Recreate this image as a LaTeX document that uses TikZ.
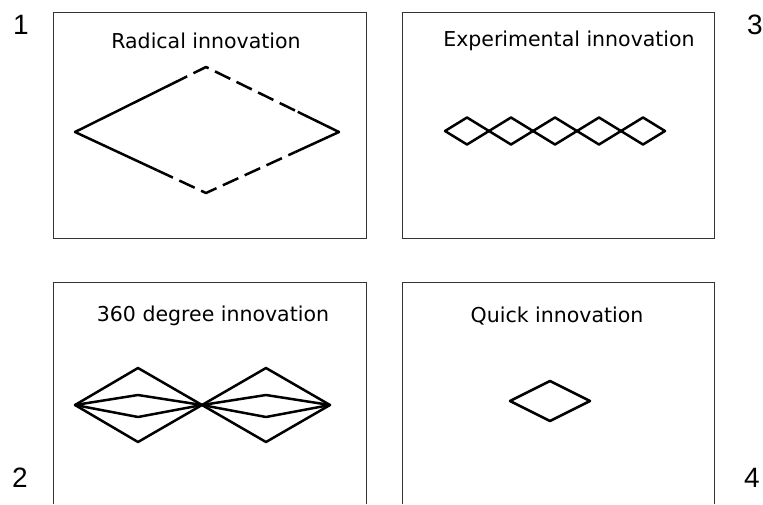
\documentclass[tikz,border=0pt]{standalone}
\usepackage{fontspec}
\setmainfont{DejaVu Sans}
\newfontfamily\numfont{Liberation Sans}
\usetikzlibrary{positioning,calc}

\begin{document}
\begin{tikzpicture}[x=1pt,y=-1pt,
    frame/.style={draw=black!80,line width=1pt},
    rhomb/.style={line width=2.5pt,line join=round},
    gaps/.style={rhomb,dash pattern=on 17pt off 7pt},
    title/.style={font=\fontsize{20.5}{24}\selectfont},
    num/.style={font=\numfont\fontsize{28}{32}\selectfont}]

      \useasboundingbox (0,0) rectangle (763,504);

      % frames
      \draw[frame] (53,12) rectangle (366,238);
      \draw[frame] (402,12) rectangle (714,238);
      \draw[frame] (53,504) |- (366,282) -- (366,504);
      \draw[frame] (402,504) |- (714,282) -- (714,504);

      % numbers and titles
      \node[num] (n1) at (21,25) {1};
      \node[num] (n2) at (20,478) {2};
      \node[num] (n3) at (755,25) {3};
      \node[num] (n4) at (752,478) {4};

      \node[title] (radical) at (206,41) {Radical innovation};
      \node[title] (experimental) at (569,41) {Experimental innovation};
      \node[title] (degree) at (213,316) {360 degree innovation};
      \node[title] (quick) at (557,316) {Quick innovation};

      % radical
      \coordinate (rl) at (75,132);
      \coordinate (rt) at (206,67);
      \coordinate (rr) at (339,132);
      \coordinate (rb) at (206,193);
      \draw[rhomb] ($(rl)!0.74!(rt)$) -- (rl) -- ($(rl)!0.63!(rb)$);
      \draw[rhomb] ($(rr)!0.31!(rt)$) -- (rr) -- ($(rr)!0.33!(rb)$);
      \draw[gaps] ($(rl)!0.74!(rt)$) -- (rt) -- ($(rr)!0.31!(rt)$);
      \draw[gaps] ($(rl)!0.63!(rb)$) -- (rb) -- ($(rr)!0.33!(rb)$);

      % experimental
      \draw[rhomb] (445,131) -- ++(22,-13.5) -- ++(22,13.5) -- ++(-22,13.5) -- cycle;
      \draw[rhomb] (489,131) -- ++(22,-13.5) -- ++(22,13.5) -- ++(-22,13.5) -- cycle;
      \draw[rhomb] (533,131) -- ++(22,-13.5) -- ++(22,13.5) -- ++(-22,13.5) -- cycle;
      \draw[rhomb] (577,131) -- ++(22,-13.5) -- ++(22,13.5) -- ++(-22,13.5) -- cycle;
      \draw[rhomb] (621,131) -- ++(22,-13.5) -- ++(22,13.5) -- ++(-22,13.5) -- cycle;

      % 360 degree
      \draw[rhomb] (75,405) -- (138,368) -- (202,405) -- (138,442) -- cycle;
      \draw[rhomb] (75,405) -- (138,395) -- (202,405) -- (138,417) -- cycle;
      \draw[rhomb] (202,405) -- (266,368) -- (330,405) -- (266,442) -- cycle;
      \draw[rhomb] (202,405) -- (266,395) -- (330,405) -- (266,417) -- cycle;

      % quick
      \draw[rhomb] (510,401) -- (550,381) -- (590,401) -- (550,421) -- cycle;
\end{tikzpicture}
\end{document}
